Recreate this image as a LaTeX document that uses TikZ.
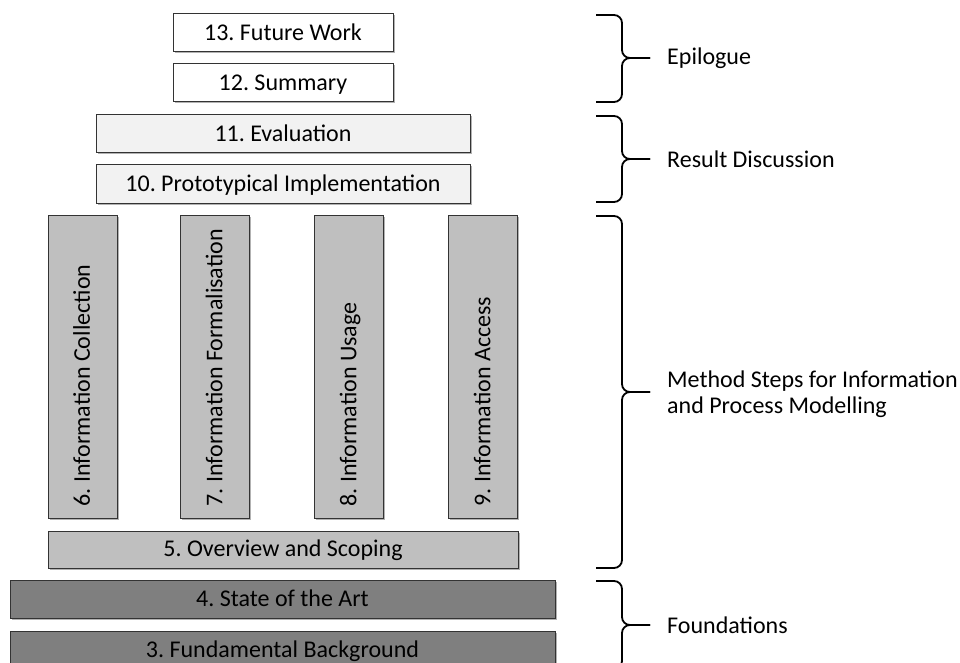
\documentclass[tikz,border=0pt]{standalone}
\usepackage{fontspec}
\setmainfont{Carlito}
\usetikzlibrary{shadows}

% Bracket that groups a range of chapters: top end, bottom end, tip height
\newcommand{\chapterbrace}[3]{%
  \draw[groupbrace] (596,#1) -- (622,#1) -- (622,#3) -- (650,#3);
  \draw[groupbrace] (596,#2) -- (622,#2) -- (622,#3) -- (650,#3);
}

\begin{document}
\frenchspacing
\begin{tikzpicture}[x=1pt,y=-1pt,
  chapterfont/.style={font=\fontsize{24}{28}\selectfont, text height=17pt, text depth=2.2pt},
  chapter/.style={chapterfont, draw=black!80, line width=1pt, inner sep=0pt,
    drop shadow={shadow xshift=1.5pt, shadow yshift=-1.5pt, opacity=0.3, fill=black}},
  epilogue/.style={chapter, fill=white, minimum width=220pt, minimum height=38pt},
  results/.style={chapter, fill=resultgray, minimum width=374pt, minimum height=38pt},
  method/.style={chapter, fill=methodgray},
  methodstep/.style={method, minimum width=69pt, minimum height=303pt},
  steptext/.style={chapterfont, rotate=90, anchor=west, inner sep=0pt},
  foundation/.style={chapter, fill=foundgray, minimum width=545pt, minimum height=38pt},
  groupbrace/.style={draw=black, line width=1.8pt, rounded corners=8pt},
  grouplabel/.style={anchor=west, inner sep=0pt, align=left,
    font=\fontsize{24}{26}\selectfont}
]
\definecolor{resultgray}{HTML}{F2F2F2}
\definecolor{methodgray}{HTML}{BFBFBF}
\definecolor{foundgray}{HTML}{7F7F7F}

\useasboundingbox (0,0) rectangle (960,663);

% Epilogue
\node[epilogue] (c13) at (283,33) {13. Future Work};
\node[epilogue] (c12) at (283,83) {12. Summary};

% Result discussion
\node[results] (c11) at (283,134) {11. Evaluation};
\node[results] (c10) at (283,184) {10. Prototypical Implementation};

% Method steps: upright bars with their titles running bottom to top
\node[methodstep] (c6) at (82.5,366.5) {};
\node[methodstep] (c7) at (215,366.5) {};
\node[methodstep] (c8) at (349,366.5) {};
\node[methodstep] (c9) at (483,366.5) {};
\node[steptext] (t6) at ([yshift=12pt]c6.south) {6. Information Collection};
\node[steptext] (t7) at ([yshift=12pt]c7.south) {7. Information Formalisation};
\node[steptext] (t8) at ([yshift=12pt]c8.south) {8. Information Usage};
\node[steptext] (t9) at ([yshift=12pt]c9.south) {9. Information Access};
\node[method, minimum width=470pt, minimum height=37pt] (c5) at (283,549.5) {5. Overview and Scoping};

% Foundations
\node[foundation] (c4) at (282.5,599.5) {4. State of the Art};
\node[foundation] (c3) at (282.5,650) {3. Fundamental Background};

% Grouping brackets and their labels
\chapterbrace{15}{102}{58}
\chapterbrace{116}{202}{159}
\chapterbrace{216}{568}{392}
\chapterbrace{581}{669}{625}

\node[grouplabel] (gEpi) at (667,58) {Epilogue};
\node[grouplabel] (gRes) at (667,159) {Result Discussion};
\node[grouplabel] (gMet) at (667,394) {Method Steps for Information\\and Process Modelling};
\node[grouplabel] (gFou) at (667,625) {Foundations};
\end{tikzpicture}
\end{document}
